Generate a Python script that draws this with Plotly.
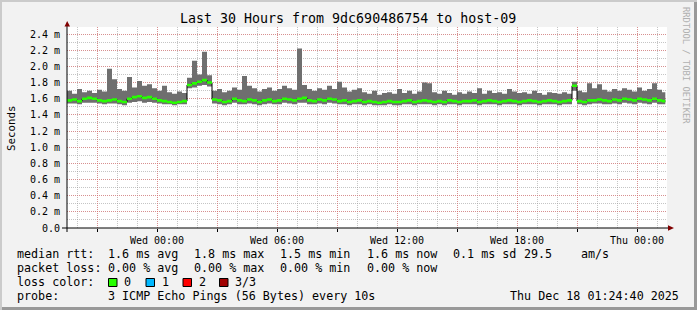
import plotly.graph_objects as go
from datetime import datetime, timedelta

# ---------------- data ----------------
start_time = datetime(2025, 12, 16, 19, 30)
end_time = datetime(2025, 12, 18, 1, 30)
step_minutes = 15

median_ms = [
    1.58, 1.59, 1.57, 1.60, 1.61, 1.60, 1.58, 1.57, 1.58, 1.59,
    1.57, 1.56, 1.60, 1.62, 1.63, 1.61, 1.62, 1.60, 1.58, 1.57,
    1.56, 1.55, 1.56, 1.57, 1.77, 1.79, 1.81, 1.83, 1.80, 1.59,
    1.58, 1.56, 1.57, 1.60, 1.58, 1.57, 1.59, 1.58, 1.56, 1.58,
    1.59, 1.57, 1.58, 1.60, 1.59, 1.58, 1.60, 1.61, 1.58, 1.57,
    1.59, 1.58, 1.60, 1.59, 1.57, 1.58, 1.56, 1.57, 1.58, 1.56,
    1.57, 1.56, 1.55, 1.56, 1.57, 1.56, 1.56, 1.57, 1.58, 1.56,
    1.57, 1.58, 1.57, 1.56, 1.57, 1.56, 1.58, 1.57, 1.56, 1.57,
    1.57, 1.58, 1.56, 1.57, 1.58, 1.57, 1.56, 1.57, 1.58, 1.57,
    1.56, 1.57, 1.58, 1.57, 1.56, 1.57, 1.58, 1.57, 1.56, 1.57,
    1.58, 1.76, 1.57, 1.56, 1.58, 1.58, 1.59, 1.58, 1.57, 1.59,
    1.58, 1.60, 1.59, 1.58, 1.60, 1.59, 1.58, 1.60, 1.58, 1.57,
]

smoke_min_ms = [
    1.54, 1.54, 1.53, 1.55, 1.55, 1.55, 1.54, 1.53, 1.54, 1.54,
    1.53, 1.52, 1.55, 1.56, 1.57, 1.55, 1.56, 1.55, 1.54, 1.53,
    1.53, 1.52, 1.53, 1.53, 1.73, 1.74, 1.76, 1.77, 1.75, 1.54,
    1.53, 1.52, 1.53, 1.55, 1.53, 1.53, 1.54, 1.53, 1.52, 1.53,
    1.54, 1.53, 1.53, 1.55, 1.54, 1.53, 1.55, 1.55, 1.53, 1.53,
    1.54, 1.53, 1.55, 1.54, 1.53, 1.53, 1.52, 1.53, 1.53, 1.52,
    1.53, 1.52, 1.52, 1.52, 1.53, 1.52, 1.52, 1.53, 1.53, 1.52,
    1.53, 1.53, 1.53, 1.52, 1.53, 1.52, 1.53, 1.53, 1.52, 1.53,
    1.53, 1.53, 1.52, 1.53, 1.53, 1.53, 1.52, 1.53, 1.53, 1.53,
    1.52, 1.53, 1.53, 1.53, 1.52, 1.53, 1.53, 1.53, 1.52, 1.53,
    1.53, 1.70, 1.53, 1.52, 1.53, 1.54, 1.54, 1.53, 1.53, 1.54,
    1.53, 1.55, 1.54, 1.53, 1.55, 1.54, 1.53, 1.55, 1.53, 1.53,
]

smoke_max_ms = [
    1.70, 1.66, 1.72, 1.68, 1.70, 1.67, 1.71, 1.69, 1.97, 1.84,
    1.72, 1.70, 1.87, 1.74, 1.82, 1.76, 1.78, 1.73, 1.70, 1.76,
    1.68, 1.66, 1.69, 1.67, 1.86, 2.07, 1.90, 2.18, 1.89, 1.70,
    1.72, 1.68, 1.70, 1.74, 1.71, 1.88, 1.76, 1.73, 1.69, 1.72,
    1.74, 1.70, 1.72, 1.76, 1.73, 1.71, 2.22, 1.77, 1.72, 1.70,
    1.73, 1.71, 1.76, 1.72, 1.81, 1.74, 1.69, 1.71, 1.73, 1.68,
    1.66, 1.70, 1.65, 1.67, 1.68, 1.66, 1.72, 1.67, 1.70, 1.66,
    1.69, 1.80, 1.79, 1.68, 1.66, 1.70, 1.67, 1.65, 1.68, 1.66,
    1.69, 1.67, 1.73, 1.66, 1.70, 1.67, 1.68, 1.66, 1.72, 1.69,
    1.67, 1.68, 1.66, 1.70, 1.67, 1.65, 1.68, 1.67, 1.66, 1.68,
    1.66, 1.81, 1.70, 1.68, 1.79, 1.73, 1.78, 1.71, 1.69, 1.72,
    1.70, 1.73, 1.71, 1.69, 1.74, 1.70, 1.72, 1.79, 1.71, 1.68,
]

x_tick_times = [datetime(2025, 12, 16, 21), datetime(2025, 12, 17, 0), datetime(2025, 12, 17, 3),
                datetime(2025, 12, 17, 6), datetime(2025, 12, 17, 9), datetime(2025, 12, 17, 12),
                datetime(2025, 12, 17, 15), datetime(2025, 12, 17, 18), datetime(2025, 12, 17, 21),
                datetime(2025, 12, 18, 0)]
x_tick_labels = ["", "Wed 00:00", "", "Wed 06:00", "", "Wed 12:00", "", "Wed 18:00", "", "Thu 00:00"]

y_tick_values = [0.0, 0.2, 0.4, 0.6, 0.8, 1.0, 1.2, 1.4, 1.6, 1.8, 2.0, 2.2, 2.4]
y_tick_labels = ["0.0", "0.2 m", "0.4 m", "0.6 m", "0.8 m", "1.0 m", "1.2 m", "1.4 m",
                 "1.6 m", "1.8 m", "2.0 m", "2.2 m", "2.4 m"]

title_text = "Last 30 Hours from 9dc690486754 to host-09"
rtt_label = "median rtt:"
rtt_stats = ["1.6 ms avg", "1.8 ms max", "1.5 ms min", "1.6 ms now", "0.1 ms sd", "29.5", "am/s"]
loss_label = "packet loss:"
loss_stats = ["0.00 % avg", "0.00 % max", "0.00 % min", "0.00 % now"]
loss_color_label = "loss color:"
loss_levels = ["0", "1", "2", "3/3"]
loss_colors = ["#26ff00", "#00b8ff", "#ff0000", "#a00000"]
probe_label = "probe:"
probe_text = "3 ICMP Echo Pings (56 Bytes) every 10s"
timestamp_text = "Thu Dec 18 01:24:40 2025"
watermark = "RRDTOOL / TOBI OETIKER"

# ---------------- geometry helpers ----------------
W, H = 697, 310
L, R, T, B = 67, 30, 27, 82
PW, PH = W - L - R, H - T - B
Y_MAX = 2.4876


def px(x):
    return (x - L) / PW


def py(y):
    return (H - B - y) / PH


FONT = "DejaVu Sans Mono"

times = [start_time + timedelta(minutes=step_minutes * i) for i in range(len(median_ms))]
t_ext = times + [datetime(2025, 12, 18, 1, 25)]


def ext(a):
    return a + [a[-1]]


band = 0.016
med_lo = [m - band for m in median_ms]
med_hi = [m + band for m in median_ms]

fig = go.Figure()
# smoke
fig.add_trace(go.Scatter(x=t_ext, y=ext(smoke_min_ms), mode="lines", line=dict(width=0, shape="hv"),
                         showlegend=False, hoverinfo="skip"))
fig.add_trace(go.Scatter(x=t_ext, y=ext(smoke_max_ms), mode="lines", line=dict(width=0, shape="hv"),
                         fill="tonexty", fillcolor="#6f6f6f", showlegend=False, hoverinfo="skip"))
# black median
fig.add_trace(go.Scatter(x=t_ext, y=ext(median_ms), mode="lines", line=dict(width=1, color="#000000", shape="hv"),
                         showlegend=False, hoverinfo="skip"))
# green band
fig.add_trace(go.Scatter(x=t_ext, y=ext(med_lo), mode="lines", line=dict(width=0, shape="hv"),
                         showlegend=False, hoverinfo="skip"))
fig.add_trace(go.Scatter(x=t_ext, y=ext(med_hi), mode="lines", line=dict(width=0, shape="hv"),
                         fill="tonexty", fillcolor=loss_colors[0], showlegend=False, hoverinfo="skip"))

MGRID = "rgba(230,100,100,0.55)"
GRID = "rgba(150,150,150,0.55)"

fig.update_xaxes(range=[start_time, end_time], tickmode="array", tickvals=x_tick_times, ticktext=x_tick_labels,
                 showgrid=True, gridcolor=MGRID, griddash="1px,1px", gridwidth=1,
                 minor=dict(dtick=3600000, tick0="2025-12-16 00:00", showgrid=True, gridcolor=GRID,
                            griddash="1px,1px", ticks=""),
                 ticks="outside", ticklen=3, tickcolor="#000000", showline=False, zeroline=False,
                 tickfont=dict(family=FONT, size=10, color="#000000"), fixedrange=True)
fig.update_yaxes(range=[0, Y_MAX], tickmode="array", tickvals=y_tick_values, ticktext=y_tick_labels,
                 showgrid=True, gridcolor=MGRID, griddash="1px,1px", gridwidth=1,
                 minor=dict(dtick=0.1, tick0=0, showgrid=True, gridcolor=GRID, griddash="1px,1px", ticks=""),
                 ticks="outside", ticklen=4, tickcolor="rgba(0,0,0,0)", showline=False, zeroline=False,
                 tickfont=dict(family=FONT, size=10, color="#000000"), fixedrange=True)

shapes = []
# axis lines
shapes.append(dict(type="line", xref="paper", yref="paper", x0=px(67), x1=px(67), y0=py(232), y1=py(24),
                   line=dict(color="#000000", width=1)))
shapes.append(dict(type="line", xref="paper", yref="paper", x0=px(62), x1=px(669), y0=py(228), y1=py(228),
                   line=dict(color="#000000", width=1)))
# arrows
shapes.append(dict(type="path", xref="paper", yref="paper",
                   path=f"M {px(64.5)},{py(26.5)} L {px(70)},{py(26.5)} L {px(67.2)},{py(21)} Z",
                   fillcolor="#800000", line=dict(width=0)))
shapes.append(dict(type="path", xref="paper", yref="paper",
                   path=f"M {px(668)},{py(225.3)} L {px(668)},{py(230.8)} L {px(674)},{py(228)} Z",
                   fillcolor="#800000", line=dict(width=0)))
# frame shading
shapes.append(dict(type="rect", xref="paper", yref="paper", x0=px(0), x1=px(W), y0=py(0), y1=py(2),
                   fillcolor="#cbcbcb", line=dict(width=0)))
shapes.append(dict(type="rect", xref="paper", yref="paper", x0=px(0), x1=px(2), y0=py(0), y1=py(H),
                   fillcolor="#cbcbcb", line=dict(width=0)))
shapes.append(dict(type="rect", xref="paper", yref="paper", x0=px(W - 3), x1=px(W), y0=py(2), y1=py(H),
                   fillcolor="#999999", line=dict(width=0)))
shapes.append(dict(type="rect", xref="paper", yref="paper", x0=px(2), x1=px(W), y0=py(H - 3), y1=py(H),
                   fillcolor="#999999", line=dict(width=0)))

annotations = []


def ann(text, x, y, size=11.7, anchor="left", color="#000000", angle=0):
    annotations.append(dict(text=text, xref="paper", yref="paper", x=px(x), y=py(y), xanchor=anchor,
                            yanchor="middle", showarrow=False, borderpad=0, textangle=angle,
                            font=dict(family=FONT, size=size, color=color)))


ann(title_text, 348, 19, size=13.3, anchor="center")
ann("Seconds", 11, 128, size=10.8, anchor="center", angle=-90)
ann(watermark, 686, 65, size=8.8, anchor="center", color="#b0b0b0", angle=90)

rows_y = [254, 268, 282, 296]
ann(rtt_label, 16, rows_y[0])
for txt, x in zip(rtt_stats, [107, 193, 279, 365.5, 451.5, 523, 580]):
    ann(txt, x, rows_y[0])
ann(loss_label, 16, rows_y[1])
for txt, x in zip(loss_stats, [107, 193, 279, 365.5]):
    ann(txt, x, rows_y[1])
ann(loss_color_label, 16, rows_y[2])
for lvl, col, bx in zip(loss_levels, loss_colors, [108.5, 146, 183, 219.5]):
    shapes.append(dict(type="rect", xref="paper", yref="paper", x0=px(bx), x1=px(bx + 8.5),
                       y0=py(278.5), y1=py(286.5), fillcolor=col, line=dict(color="#000000", width=1)))
    ann(lvl, bx + 14.5, rows_y[2])
ann(probe_label, 16, rows_y[3])
ann(probe_text, 107, rows_y[3])
ann(timestamp_text, 680, rows_y[3], anchor="right")

fig.update_layout(width=W, height=H, margin=dict(l=L, r=R, t=T, b=B, pad=0),
                  paper_bgcolor="#f2f2f2", plot_bgcolor="#ffffff",
                  shapes=shapes, annotations=annotations, showlegend=False,
                  font=dict(family=FONT, color="#000000"))

fig.write_html("out.html", config={"displayModeBar": False, "staticPlot": True})
